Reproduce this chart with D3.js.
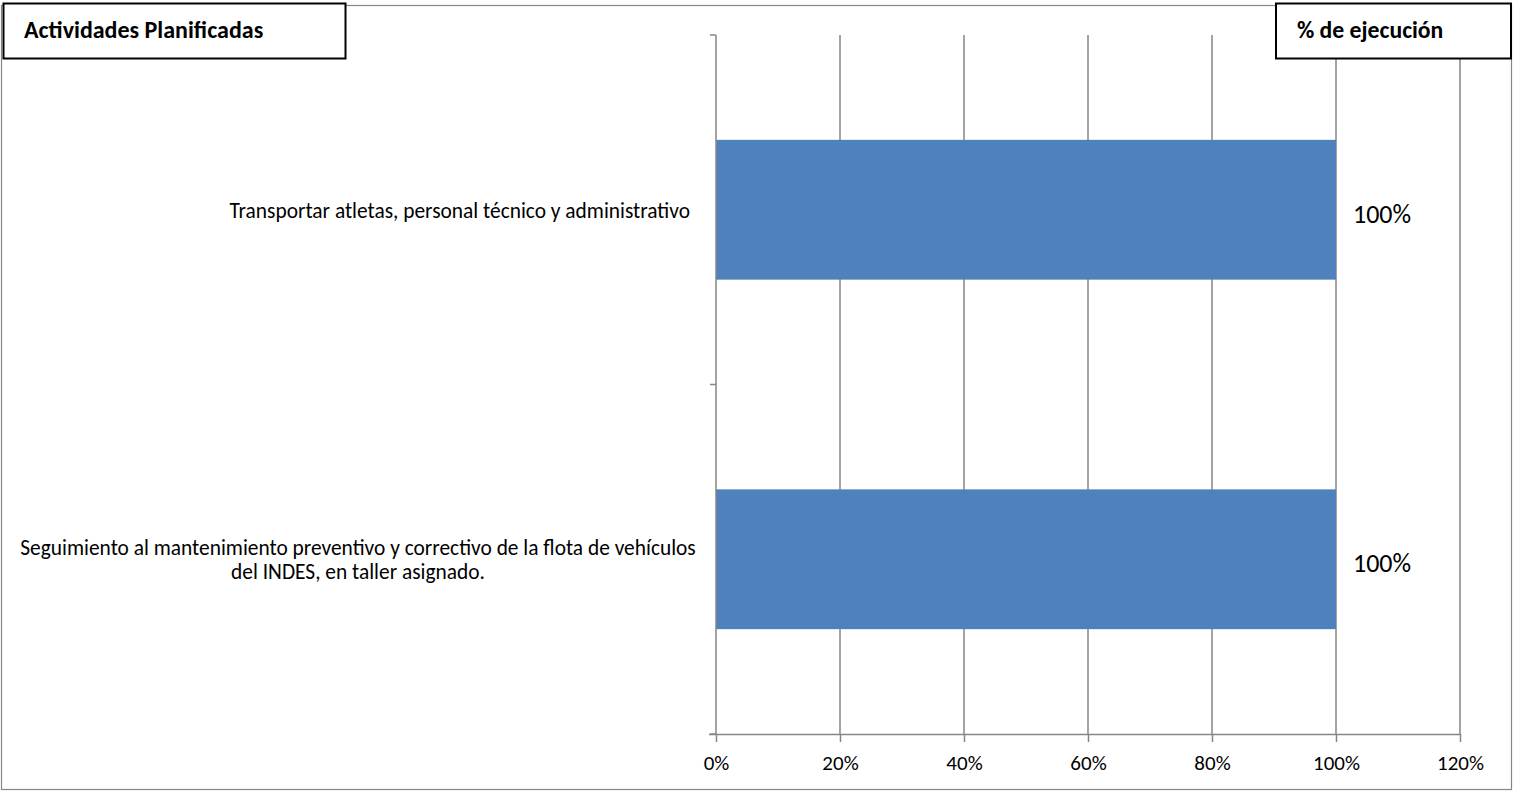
<!DOCTYPE html>
<html>
<head>
<meta charset="utf-8">
<script src="https://cdn.jsdelivr.net/npm/d3@7"></script>
<style>
  html, body { margin: 0; padding: 0; background: #fff; }
  svg { display: block; font-family: Carlito, Lato, "Open Sans", sans-serif; }
</style>
</head>
<body>
<svg id="chart" width="1513" height="792"></svg>
<script>
const categories = [
  ["Transportar atletas, personal técnico y administrativo"],
  ["Seguimiento al mantenimiento preventivo y correctivo de la flota de vehículos", "del INDES, en taller asignado."]
];
const values = [1.0, 1.0];
const valueLabels = ["100%", "100%"];
const xTicks = [0, 0.2, 0.4, 0.6, 0.8, 1.0, 1.2];
const leftTitle = "Actividades Planificadas";
const rightTitle = "% de ejecución";

const svg = d3.select("#chart");
const W = 1513, H = 792;
const margin = {left: 716, right: 53, top: 35, bottom: 58};
const plotW = W - margin.left - margin.right;
const plotH = H - margin.top - margin.bottom;
const FONT = "Carlito, Lato, sans-serif";

// outer border
svg.append("rect").attr("x", 1.5).attr("y", 5.5).attr("width", 1510).attr("height", 784)
  .attr("fill", "#fff").attr("stroke", "#868686").attr("stroke-width", 1.2);

const x = d3.scaleLinear().domain([0, 1.2]).range([0, plotW]);
const y = d3.scaleBand().domain(d3.range(categories.length)).range([0, plotH]).paddingInner(0.6).paddingOuter(0.3);

const g = svg.append("g").attr("transform", `translate(${margin.left},${margin.top})`);

// grid lines
g.selectAll("line.grid").data(xTicks.slice(1)).join("line")
  .attr("x1", d => x(d)).attr("x2", d => x(d)).attr("y1", 0).attr("y2", plotH)
  .attr("stroke", "#868686").attr("stroke-width", 1.5);

// bars
g.selectAll("rect.bar").data(values).join("rect")
  .attr("x", 0).attr("y", (d, i) => y(i)).attr("width", d => x(d)).attr("height", y.bandwidth())
  .attr("fill", "#4F81BD");

// x axis
const xAxis = d3.axisBottom(x).tickValues(xTicks).tickFormat(d3.format(".0%")).tickSizeInner(8).tickSizeOuter(0).tickPadding(13);
const xg = g.append("g").attr("transform", `translate(0,${plotH})`).call(xAxis);
xg.select(".domain").attr("stroke", "#868686").attr("stroke-width", 1.5).attr("d", `M${-7},0.5H${plotW}`);
xg.selectAll(".tick line").attr("stroke", "#868686").attr("stroke-width", 1.5);
xg.selectAll(".tick text").attr("font-size", 21).attr("fill", "#000").attr("font-family", FONT);

// y axis line & category boundary ticks
const yBound = d3.scaleLinear().domain([0, categories.length]).range([0, plotH]);
g.append("line").attr("x1", 0).attr("x2", 0).attr("y1", 0).attr("y2", plotH)
  .attr("stroke", "#868686").attr("stroke-width", 1.5);
g.selectAll("line.ytick").data(d3.range(categories.length + 1)).join("line")
  .attr("x1", -6).attr("x2", 0).attr("y1", d => yBound(d)).attr("y2", d => yBound(d))
  .attr("stroke", "#868686").attr("stroke-width", 1.5);

// category labels
categories.forEach((lines, i) => {
  const cy = y(i) + y.bandwidth() / 2 + 1;
  const lh = 24;
  const t = g.append("text").attr("font-size", 21.4).attr("fill", "#000")
    .attr("dominant-baseline", "central")
    .attr("text-anchor", lines.length > 1 ? "middle" : "end");
  lines.forEach((ln, j) => {
    t.append("tspan").attr("x", lines.length > 1 ? 358 - margin.left : -26)
      .attr("y", cy + (j - (lines.length - 1) / 2) * lh).text(ln);
  });
});

// value labels
g.selectAll("text.val").data(values).join("text")
  .attr("x", d => x(d) + 17).attr("y", (d, i) => y(i) + y.bandwidth() / 2 + 4)
  .attr("dominant-baseline", "central")
  .attr("font-size", 26).attr("fill", "#000").text((d, i) => valueLabels[i]);

// title boxes
svg.append("rect").attr("x", 3.5).attr("y", 3.5).attr("width", 342).attr("height", 55)
  .attr("fill", "#fff").attr("stroke", "#000").attr("stroke-width", 2);
svg.append("text").attr("x", 24).attr("y", 29).attr("dominant-baseline", "central")
  .attr("font-size", 24).attr("font-weight", "bold").text(leftTitle);
svg.append("rect").attr("x", 1276).attr("y", 3.5).attr("width", 235).attr("height", 55)
  .attr("fill", "#fff").attr("stroke", "#000").attr("stroke-width", 2);
svg.append("text").attr("x", 1297).attr("y", 29).attr("dominant-baseline", "central")
  .attr("font-size", 23.7).attr("font-weight", "bold").text(rightTitle);
</script>
</body>
</html>
